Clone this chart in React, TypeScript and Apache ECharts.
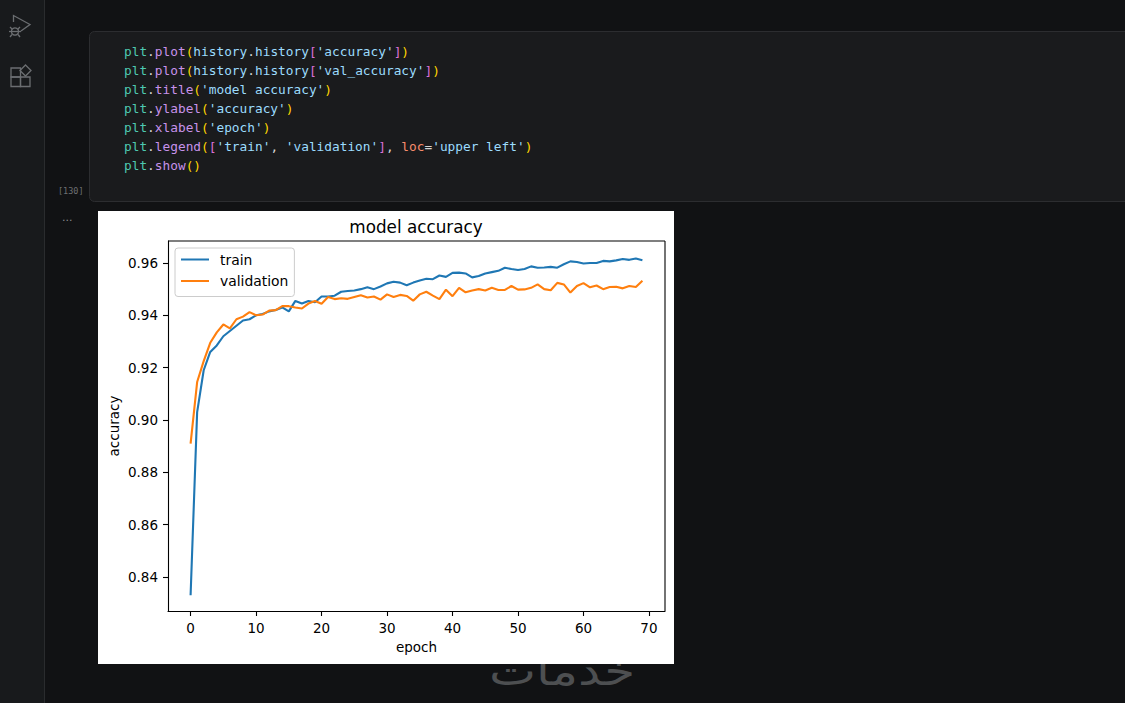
import React, { useEffect, useRef } from "react";
import * as echarts from "echarts";

const epochs = Array.from({ length: 70 }, (_, i) => i);
const trainAccuracy = [
  0.833, 0.903, 0.919, 0.926, 0.9285, 0.932, 0.934, 0.936, 0.938, 0.9385,
  0.94, 0.9405, 0.9415, 0.942, 0.943, 0.9415, 0.9455, 0.9445, 0.9455, 0.945,
  0.9472, 0.9472, 0.9475, 0.949, 0.9493, 0.9495, 0.95, 0.9507, 0.95, 0.951,
  0.9522, 0.9528, 0.9525, 0.9515, 0.9525, 0.9533, 0.954, 0.9538, 0.9552, 0.9547,
  0.9562, 0.9563, 0.956, 0.9545, 0.955, 0.956, 0.9565, 0.957, 0.9582, 0.9577,
  0.9573, 0.9577, 0.9587, 0.9582, 0.9583, 0.9585, 0.9582, 0.9595, 0.9606, 0.9604,
  0.9598, 0.96, 0.96, 0.9608, 0.9606, 0.961, 0.9615, 0.9612, 0.9617, 0.961,
];
const valAccuracy = [
  0.891, 0.9145, 0.9225, 0.9295, 0.9335, 0.9365, 0.935, 0.9385, 0.9395, 0.9412,
  0.94, 0.9403, 0.9418, 0.942, 0.9435, 0.9435, 0.943, 0.9426, 0.9445, 0.9455,
  0.9444, 0.947, 0.9462, 0.9465, 0.9463, 0.947, 0.9477, 0.9468, 0.9472, 0.946,
  0.948, 0.947, 0.9478, 0.9474, 0.9456, 0.948, 0.949, 0.9475, 0.9462, 0.9498,
  0.9473, 0.9505, 0.9488, 0.9495, 0.95, 0.9495, 0.9505, 0.9497, 0.9497, 0.9512,
  0.9498, 0.9499, 0.9505, 0.9518, 0.95, 0.9496, 0.9524, 0.9518, 0.9487, 0.9512,
  0.9523, 0.9507, 0.9514, 0.95, 0.9508, 0.9509, 0.9503, 0.9512, 0.9508, 0.9532,
];
const xTicks = [0, 10, 20, 30, 40, 50, 60, 70];
const yTicks = [0.84, 0.86, 0.88, 0.9, 0.92, 0.94, 0.96];
const seriesNames = ["train", "validation"];
const seriesColors = ["#1f77b4", "#ff7f0e"];

// [style key, text] runs for each line of the notebook cell
const codeLines: [string, string][][] = [
  [["m", "plt"], ["w", "."], ["f", "plot"], ["y", "("], ["v", "history"], ["w", "."], ["v", "history"], ["p", "["], ["s", "'accuracy'"], ["p", "]"], ["y", ")"]],
  [["m", "plt"], ["w", "."], ["f", "plot"], ["y", "("], ["v", "history"], ["w", "."], ["v", "history"], ["p", "["], ["s", "'val_accuracy'"], ["p", "]"], ["y", ")"]],
  [["m", "plt"], ["w", "."], ["f", "title"], ["y", "("], ["s", "'model accuracy'"], ["y", ")"]],
  [["m", "plt"], ["w", "."], ["f", "ylabel"], ["y", "("], ["s", "'accuracy'"], ["y", ")"]],
  [["m", "plt"], ["w", "."], ["f", "xlabel"], ["y", "("], ["s", "'epoch'"], ["y", ")"]],
  [["m", "plt"], ["w", "."], ["f", "legend"], ["y", "("], ["p", "["], ["s", "'train'"], ["w", ", "], ["s", "'validation'"], ["p", "]"], ["w", ", "], ["o", "loc"], ["w", "="], ["s", "'upper left'"], ["y", ")"]],
  [["m", "plt"], ["w", "."], ["f", "show"], ["y", "()"]],
];
const codeColors: Record<string, string> = {
  m: "#4ec9b0",
  w: "#d4d4d4",
  f: "#c792ea",
  y: "#ffd700",
  p: "#da70d6",
  v: "#9cdcfe",
  s: "#9cdcfe",
  o: "#f78c6c",
};

const BG = -30;
const PANEL = -29;
const TOP = -20;
const CODE_FONT = '12.8px "DejaVu Sans Mono"';

function buildBackground(): any[] {
  const rich: Record<string, any> = {};
  Object.keys(codeColors).forEach((k) => {
    rich[k] = { fill: codeColors[k], font: CODE_FONT };
  });
  const codeElements = codeLines.map((line, i) => ({
    type: "text",
    z: TOP,
    x: 124,
    y: 51.5 + i * 19,
    style: {
      text: line.map(([k, t]) => `{${k}|${t}}`).join(""),
      rich,
      fill: "#d4d4d4",
      font: CODE_FONT,
      verticalAlign: "middle",
    },
  }));
  const iconStroke = { stroke: "#6b6e71", fill: "none", lineWidth: 1.3 };
  return [
    { type: "rect", z: BG, shape: { x: 0, y: 0, width: 1125, height: 703 }, style: { fill: "#111214" } },
    { type: "rect", z: PANEL, shape: { x: 0, y: 0, width: 44, height: 703 }, style: { fill: "#181a1c" } },
    { type: "line", z: PANEL, shape: { x1: 44.5, y1: 0, x2: 44.5, y2: 703 }, style: { stroke: "#2a2c2e", lineWidth: 1 } },
    { type: "polyline", z: TOP, shape: { points: [[13.5, 22], [13.5, 15.5], [30, 24.5], [21, 31]] }, style: iconStroke },
    { type: "circle", z: TOP, shape: { cx: 15, cy: 31.5, r: 3.6 }, style: iconStroke },
    { type: "line", z: TOP, shape: { x1: 9, y1: 31.5, x2: 21, y2: 31.5 }, style: iconStroke },
    { type: "line", z: TOP, shape: { x1: 10, y1: 27, x2: 12, y2: 29 }, style: iconStroke },
    { type: "line", z: TOP, shape: { x1: 20, y1: 27, x2: 18, y2: 29 }, style: iconStroke },
    { type: "line", z: TOP, shape: { x1: 10, y1: 37, x2: 12, y2: 34.5 }, style: iconStroke },
    { type: "line", z: TOP, shape: { x1: 20, y1: 37, x2: 18, y2: 34.5 }, style: iconStroke },
    { type: "rect", z: TOP, shape: { x: 11, y: 68, width: 9.5, height: 9 }, style: iconStroke },
    { type: "rect", z: TOP, shape: { x: 11, y: 77, width: 9.5, height: 9.5 }, style: iconStroke },
    { type: "rect", z: TOP, shape: { x: 20.5, y: 77, width: 9.5, height: 9.5 }, style: iconStroke },
    { type: "polygon", z: TOP, shape: { points: [[25.5, 65], [31, 70.5], [25.5, 76], [20, 70.5]] }, style: iconStroke },
    { type: "rect", z: PANEL, shape: { x: 89.5, y: 31.5, width: 1100, height: 170, r: 5 }, style: { fill: "#1a1b1d", stroke: "#2c2d30", lineWidth: 1 } },
    { type: "text", z: TOP, x: 58, y: 191, style: { text: "[130]", fill: "#6e7073", font: '8.5px "DejaVu Sans Mono"', verticalAlign: "middle" } },
    { type: "text", z: TOP, x: 62, y: 217, style: { text: "...", fill: "#8a8c8f", font: '11px "DejaVu Sans"', verticalAlign: "middle" } },
    { type: "text", z: PANEL, x: 562, y: 671, scaleX: 1.25, style: { text: "خدمات", fill: "#4d4f51", font: '40px "DejaVu Sans"', align: "center", verticalAlign: "middle" } },
    { type: "rect", z: -25, shape: { x: 98, y: 211, width: 576, height: 453 }, style: { fill: "#ffffff" } },
    ...codeElements,
    { type: "line", z: 5, shape: { x1: 168, y1: 241, x2: 665, y2: 241 }, style: { stroke: "#000", lineWidth: 1.1 } },
    { type: "line", z: 5, shape: { x1: 665, y1: 241, x2: 665, y2: 611 }, style: { stroke: "#000", lineWidth: 1.1 } },
  ];
}

export default function App() {
  const ref = useRef<HTMLDivElement>(null);
  useEffect(() => {
    const chart = echarts.init(ref.current!, undefined, { renderer: "svg" });
    const axisCommon = {
      axisLine: { show: true, onZero: false, lineStyle: { color: "#000", width: 1.1 } },
      axisTick: { show: true, length: 5, lineStyle: { color: "#000", width: 1.1 } },
      splitLine: { show: false },
      nameLocation: "middle" as const,
      nameTextStyle: { color: "#000", fontFamily: "DejaVu Sans", fontSize: 13.5 },
    };
    chart.setOption({
      animation: false,
      backgroundColor: "#111214",
      textStyle: { fontFamily: "DejaVu Sans" },
      graphic: buildBackground(),
      title: {
        text: "model accuracy",
        left: 411,
        top: 213,
        textAlign: "center",
        textStyle: { color: "#000", fontFamily: "DejaVu Sans", fontSize: 16.8, fontWeight: "normal" },
      },
      grid: { left: 168, top: 241, width: 497, height: 370, show: false },
      legend: {
        left: 175,
        top: 248,
        orient: "vertical",
        data: seriesNames,
        icon: "rect",
        itemWidth: 28,
        itemHeight: 2,
        itemGap: 6.5,
        padding: [4, 6, 8, 6],
        borderColor: "#cccccc",
        borderWidth: 1,
        borderRadius: 3,
        backgroundColor: "rgba(255,255,255,0.8)",
        textStyle: { color: "#000", fontFamily: "DejaVu Sans", fontSize: 13.9, padding: [0, 0, 0, 6], lineHeight: 15 },
      },
      xAxis: {
        ...axisCommon,
        type: "value",
        name: "epoch",
        nameGap: 28,
        min: -3.45,
        max: 72.45,
        axisLabel: { color: "#000", fontFamily: "DejaVu Sans", fontSize: 13.5, margin: 10, customValues: xTicks, showMinLabel: true, showMaxLabel: true },
        axisTick: { ...axisCommon.axisTick, customValues: xTicks },
      },
      yAxis: {
        ...axisCommon,
        type: "value",
        name: "accuracy",
        nameGap: 47,
        min: 0.827,
        max: 0.9684,
        axisLabel: { color: "#000", fontFamily: "DejaVu Sans", fontSize: 13.5, margin: 10, customValues: yTicks, formatter: (v: number) => v.toFixed(2) },
        axisTick: { ...axisCommon.axisTick, customValues: yTicks },
      },
      series: [
        { name: seriesNames[0], type: "line", data: epochs.map((e, i) => [e, trainAccuracy[i]]), showSymbol: false, color: seriesColors[0], lineStyle: { width: 2.1, color: seriesColors[0] }, clip: true },
        { name: seriesNames[1], type: "line", data: epochs.map((e, i) => [e, valAccuracy[i]]), showSymbol: false, color: seriesColors[1], lineStyle: { width: 2.1, color: seriesColors[1] }, clip: true },
      ],
    });
    return () => chart.dispose();
  }, []);
  return <div ref={ref} style={{ position: "fixed", left: 0, top: 0, width: 1125, height: 703 }} />;
}
